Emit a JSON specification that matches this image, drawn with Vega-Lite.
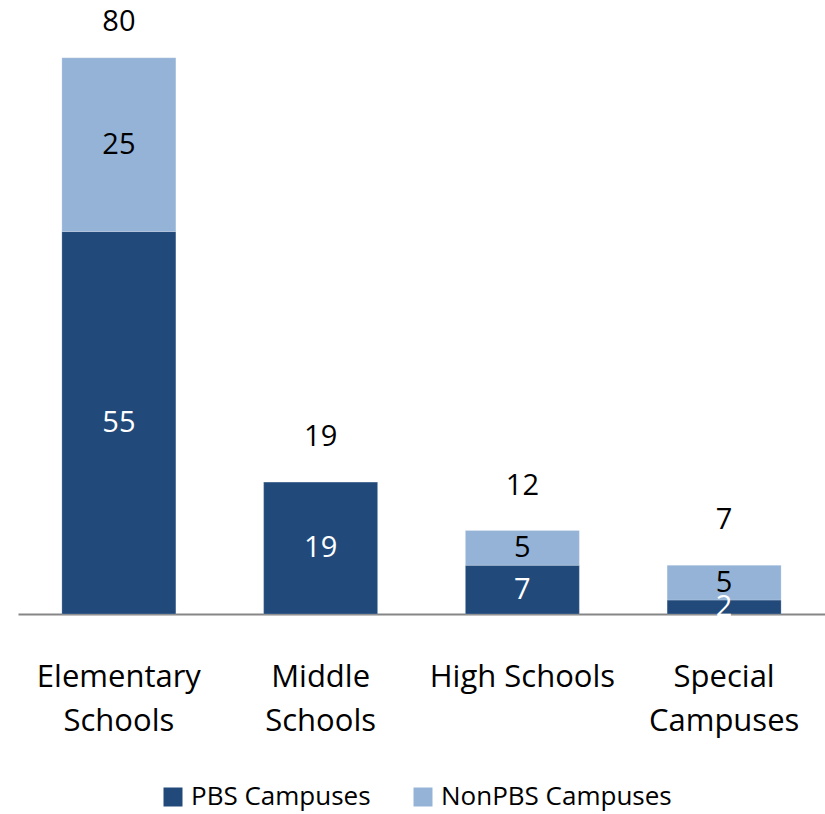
{
  "$schema": "https://vega.github.io/schema/vega-lite/v6.json",
  "width": 807,
  "height": 614,
  "autosize": {"type": "none"},
  "padding": {"left": 18, "top": 0, "right": 0, "bottom": 200},
  "config": {"view": {"stroke": null}, "font": "Open Sans"},
  "data": {
    "values": [
      {"category": "Elementary Schools", "type": "PBS Campuses", "value": 55},
      {"category": "Elementary Schools", "type": "NonPBS Campuses", "value": 25},
      {"category": "Middle Schools", "type": "PBS Campuses", "value": 19},
      {"category": "Middle Schools", "type": "NonPBS Campuses", "value": 0},
      {"category": "High Schools", "type": "PBS Campuses", "value": 7},
      {"category": "High Schools", "type": "NonPBS Campuses", "value": 5},
      {"category": "Special Campuses", "type": "PBS Campuses", "value": 2},
      {"category": "Special Campuses", "type": "NonPBS Campuses", "value": 5}
    ]
  },
  "encoding": {
    "x": {
      "field": "category",
      "type": "nominal",
      "sort": ["Elementary Schools", "Middle Schools", "High Schools", "Special Campuses"],
      "scale": {"paddingInner": 0.435, "paddingOuter": 0.2175},
      "axis": {
        "title": null,
        "ticks": false,
        "labelAngle": 0,
        "labelFontSize": 31,
        "labelColor": "#000000",
        "labelPadding": 48,
        "labelLineHeight": 44,
        "labelLimit": 0,
        "domainColor": "#868686",
        "domainWidth": 2,
        "labelExpr": "datum.value == 'High Schools' ? 'High Schools' : split(datum.value, ' ')"
      }
    }
  },
  "layer": [
    {
      "mark": {"type": "bar", "stroke": "#ffffff", "strokeWidth": 0.5, "strokeOpacity": 0.4},
      "encoding": {
        "y": {"aggregate": "sum", "field": "value", "type": "quantitative", "scale": {"domain": [0, 88.3], "nice": false}, "axis": null},
        "color": {
          "field": "type",
          "type": "nominal",
          "scale": {"domain": ["PBS Campuses", "NonPBS Campuses"], "range": ["#214A7B", "#95B3D7"]},
          "legend": {
            "title": null,
            "orient": "none",
            "direction": "horizontal",
            "legendX": 142,
            "legendY": 784,
            "padding": 0,
            "symbolType": "square",
            "symbolSize": 361,
            "symbolStrokeWidth": 0,
            "labelFontSize": 26,
            "labelLimit": 0,
            "labelColor": "#000000",
            "labelOffset": 5,
            "columnPadding": 39
          }
        },
        "order": {"field": "type", "sort": "descending"}
      }
    },
    {
      "transform": [
        {"filter": "datum.value > 0"},
        {"stack": "value", "groupby": ["category"], "sort": [{"field": "type", "order": "descending"}], "as": ["v0", "v1"]},
        {"calculate": "(datum.v0 + datum.v1) / 2", "as": "mid"}
      ],
      "mark": {"type": "text", "fontSize": 29, "baseline": "middle"},
      "encoding": {
        "y": {"field": "mid", "type": "quantitative"},
        "text": {"field": "value", "type": "quantitative"},
        "color": {"condition": {"test": "datum.type === 'PBS Campuses'", "value": "#ffffff"}, "value": "#000000"}
      }
    },
    {
      "transform": [
        {"aggregate": [{"op": "sum", "field": "value", "as": "total"}], "groupby": ["category"]}
      ],
      "mark": {"type": "text", "fontSize": 29, "baseline": "middle", "dy": {"expr": "datum.total > 50 ? -36 : -45"}, "color": "#000000"},
      "encoding": {
        "y": {"field": "total", "type": "quantitative"},
        "text": {"field": "total", "type": "quantitative"}
      }
    }
  ]
}
